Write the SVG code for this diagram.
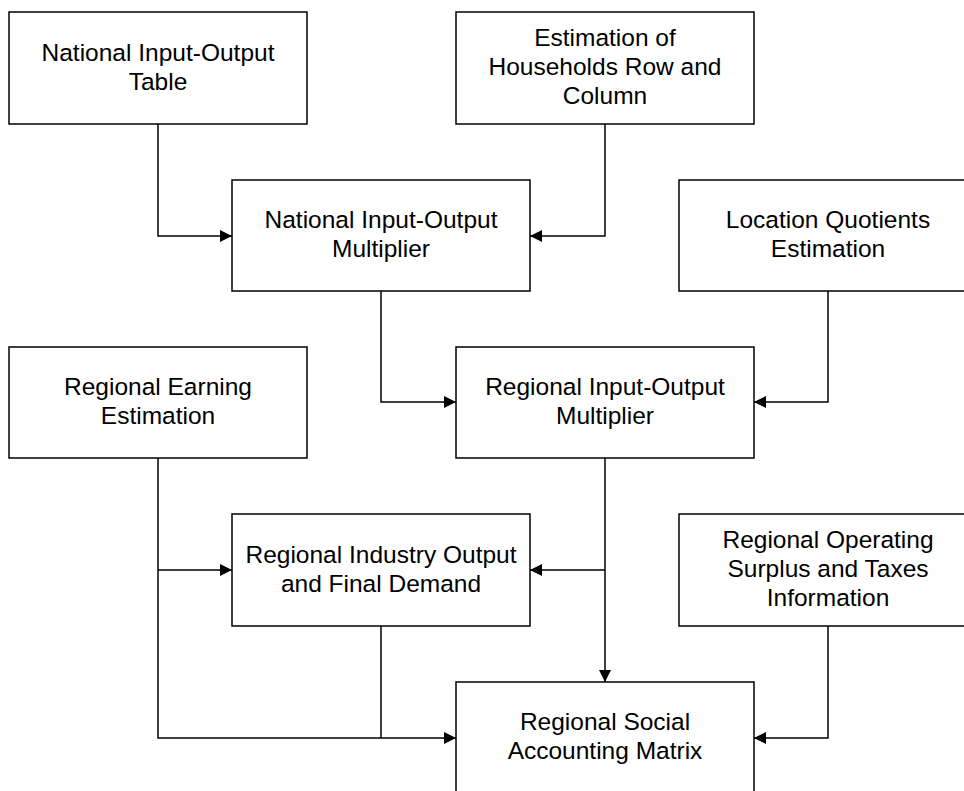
<svg xmlns="http://www.w3.org/2000/svg" width="964" height="791" viewBox="0 0 964 791">
  <style>
    .box { fill: #ffffff; stroke: #000000; stroke-width: 1.5; }
    .lbl { font-family: "Liberation Sans", Arial, sans-serif; font-size: 24.5px; fill: #000000; text-anchor: middle; }
    .wire { fill: none; stroke: #000000; stroke-width: 1.5; }
    .arrow { marker-end: url(#head); }
  </style>
  <defs>
    <marker id="head" markerUnits="userSpaceOnUse" markerWidth="13" markerHeight="13" refX="12" refY="6" orient="auto">
      <path d="M0,0 L12,6 L0,12 Z" fill="#000000"/>
    </marker>
  </defs>
  <rect x="0" y="0" width="964" height="791" fill="#ffffff"/>

  <!-- connectors -->
  <g id="connectors">
    <polyline class="wire arrow" points="158,124 158,236 232,236"/>
    <polyline class="wire arrow" points="605,124 605,236 530,236"/>
    <polyline class="wire arrow" points="381,291 381,402 456,402"/>
    <polyline class="wire arrow" points="828,291 828,402 754,402"/>
    <polyline class="wire arrow" points="158,458 158,738 456,738"/>
    <polyline class="wire arrow" points="158,570 232,570"/>
    <polyline class="wire arrow" points="605,458 605,682"/>
    <polyline class="wire arrow" points="605,570 530,570"/>
    <polyline class="wire" points="381,626 381,738"/>
    <polyline class="wire arrow" points="828,626 828,738 754,738"/>
  </g>

  <!-- nodes -->
  <g id="national-io-table">
    <rect class="box" x="9" y="12" width="298" height="112"/>
    <text class="lbl" x="158" y="60.5">National Input-Output</text>
    <text class="lbl" x="158" y="89.5">Table</text>
  </g>
  <g id="households-estimation">
    <rect class="box" x="456" y="12" width="298" height="112"/>
    <text class="lbl" x="605" y="46">Estimation of</text>
    <text class="lbl" x="605" y="75">Households Row and</text>
    <text class="lbl" x="605" y="104">Column</text>
  </g>
  <g id="national-io-multiplier">
    <rect class="box" x="232" y="180" width="298" height="111"/>
    <text class="lbl" x="381" y="228">National Input-Output</text>
    <text class="lbl" x="381" y="257">Multiplier</text>
  </g>
  <g id="location-quotients">
    <rect class="box" x="679" y="180" width="298" height="111"/>
    <text class="lbl" x="828" y="228">Location Quotients</text>
    <text class="lbl" x="828" y="257">Estimation</text>
  </g>
  <g id="regional-earning">
    <rect class="box" x="9" y="347" width="298" height="111"/>
    <text class="lbl" x="158" y="395">Regional Earning</text>
    <text class="lbl" x="158" y="424">Estimation</text>
  </g>
  <g id="regional-io-multiplier">
    <rect class="box" x="456" y="347" width="298" height="111"/>
    <text class="lbl" x="605" y="395">Regional Input-Output</text>
    <text class="lbl" x="605" y="424">Multiplier</text>
  </g>
  <g id="regional-industry-output">
    <rect class="box" x="232" y="514" width="298" height="112"/>
    <text class="lbl" x="381" y="562.5">Regional Industry Output</text>
    <text class="lbl" x="381" y="591.5">and Final Demand</text>
  </g>
  <g id="regional-operating-surplus">
    <rect class="box" x="679" y="514" width="298" height="112"/>
    <text class="lbl" x="828" y="548">Regional Operating</text>
    <text class="lbl" x="828" y="577">Surplus and Taxes</text>
    <text class="lbl" x="828" y="606">Information</text>
  </g>
  <g id="regional-sam">
    <rect class="box" x="456" y="682" width="298" height="112"/>
    <text class="lbl" x="605" y="730">Regional Social</text>
    <text class="lbl" x="605" y="759">Accounting Matrix</text>
  </g>
</svg>
